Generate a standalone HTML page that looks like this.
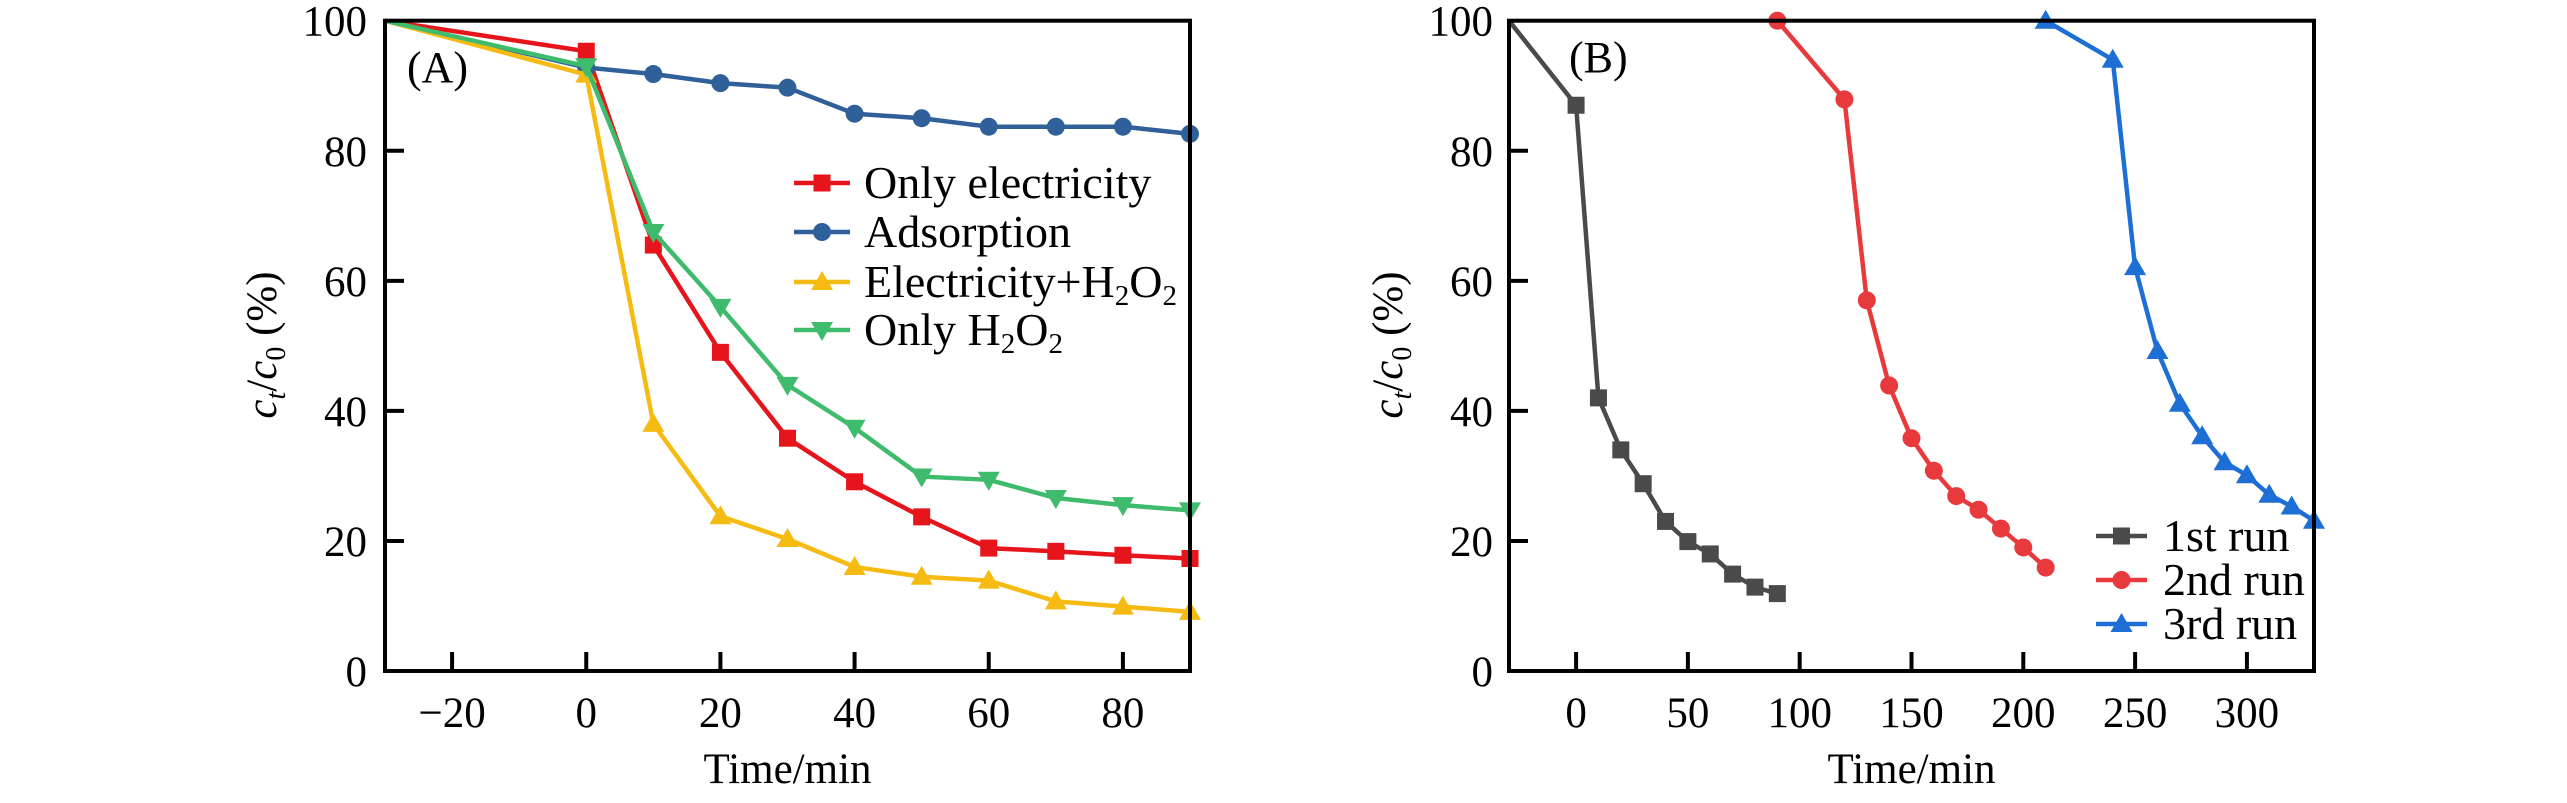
<!DOCTYPE html>
<html><head><meta charset="utf-8"><style>
html,body{margin:0;padding:0;background:#fff;font-family:"Liberation Serif","Times New Roman",serif;}
svg{display:block;}
svg text{font-family:"Liberation Serif","Times New Roman",serif;}
</style></head><body>
<svg id="chart" width="2567" height="803" viewBox="0 0 2567 803" xmlns="http://www.w3.org/2000/svg" font-family="Liberation Serif, Times New Roman, serif"></svg>
<script>
// Panel A data
const timeA = [-30, 0, 10, 20, 30, 40, 50, 60, 70, 80, 90];
const onlyElectricity = [100, 95.3, 65.5, 49, 35.8, 29.1, 23.7, 18.9, 18.4, 17.8, 17.3];
const adsorption = [100, 92.8, 91.8, 90.4, 89.7, 85.7, 85, 83.7, 83.7, 83.7, 82.6];
const electricityH2O2 = [100, 91.7, 38, 23.8, 20.3, 16.0, 14.5, 13.9, 10.7, 9.9, 9.1];
const onlyH2O2 = [100, 93, 67.5, 56, 44, 37.4, 29.9, 29.4, 26.6, 25.5, 24.7];
const xTicksA = [-20, 0, 20, 40, 60, 80];
// Panel B data
const time1 = [-30, 0, 10, 20, 30, 40, 50, 60, 70, 80, 90];
const run1 = [100, 87, 42, 34, 28.8, 23, 19.9, 18, 14.9, 12.9, 11.9];
const time2 = [90, 120, 130, 140, 150, 160, 170, 180, 190, 200, 210];
const run2 = [100, 87.9, 57, 43.9, 35.8, 30.8, 26.9, 24.8, 21.9, 19, 15.9];
const time3 = [210, 240, 250, 260, 270, 280, 290, 300, 310, 320, 330];
const run3 = [100, 94, 62.1, 49.2, 41.1, 36.1, 32.1, 30.1, 27.1, 25.3, 23.1];
const xTicksB = [0, 50, 100, 150, 200, 250, 300];
const yTicks = [0, 20, 40, 60, 80, 100];

const NS = "http://www.w3.org/2000/svg";
const FONT = "Liberation Serif, Times New Roman, serif";
const svg = document.getElementById('chart');
function mk(tag, attrs, parent) {
  const e = document.createElementNS(NS, tag);
  for (const k in attrs) e.setAttribute(k, attrs[k]);
  if (tag === 'text') e.setAttribute('font-family', FONT);
  (parent || svg).appendChild(e);
  return e;
}
const Y0 = 671, Y1 = 20.7;
function yS(v) { return Y0 - (v / 100) * (Y0 - Y1); }

function marker(g, type, x, y, color) {
  let m;
  if (type === 'square') m = mk('rect', {x: x - 8.5, y: y - 8.5, width: 17, height: 17, fill: color}, g);
  else if (type === 'circle') m = mk('circle', {cx: x, cy: y, r: 9, fill: color}, g);
  else if (type === 'up') m = mk('polygon', {points: `${x},${y - 11} ${x - 11},${y + 8} ${x + 11},${y + 8}`, fill: color}, g);
  else m = mk('polygon', {points: `${x},${y + 11} ${x - 11},${y - 8} ${x + 11},${y - 8}`, fill: color}, g);
  return m;
}

function panel(opts) {
  const {x0, x1, xmin, xmax, xticks, label, labelPos, titleX, tickRight, name} = opts;
  const xS = v => x0 + (v - xmin) / (xmax - xmin) * (x1 - x0);
  const g = mk('g', {});
  
  
  opts.series.forEach(s => {
    const sg = mk('g', {}, g);
    
    
    const pts = s.x.map((t, i) => `${xS(t)},${yS(s.y[i])}`).join(' ');
    const pl = mk('polyline', {points: pts, fill: 'none', stroke: s.color, 'stroke-width': 4.5, 'stroke-linejoin': 'round'}, sg);
    
    
    s.x.forEach((t, i) => {
      if (i < s.skip) return;
      const m = marker(sg, s.marker, xS(t), yS(s.y[i]), s.color);
      
      
    });
  });
  const fr = mk('rect', {x: x0, y: Y1, width: x1 - x0, height: Y0 - Y1, fill: 'none', stroke: '#000', 'stroke-width': 4}, g);
  
  
  xticks.forEach(t => {
    const X = xS(t);
    const tl = mk('line', {x1: X, x2: X, y1: Y0, y2: Y0 - 19, stroke: '#000', 'stroke-width': 4}, g);
    
    
    const tx = mk('text', {x: X, y: 727, 'font-size': 43, 'text-anchor': 'middle'}, g);
    tx.textContent = t < 0 ? '\u2212' + Math.abs(t) : String(t);
    
    
  });
  yTicks.forEach(v => {
    const Y = yS(v);
    if (v > 0 && v < 100) {
      const tl = mk('line', {x1: x0, x2: x0 + 19, y1: Y, y2: Y, stroke: '#000', 'stroke-width': 4}, g);
      
      
    }
    const tx = mk('text', {x: tickRight, y: Y + 15, 'font-size': 43, 'text-anchor': 'end'}, g);
    tx.textContent = String(v);
    
    
  });
  const xt = mk('text', {x: (x0 + x1) / 2, y: 783, 'font-size': 43, 'text-anchor': 'middle'}, g);
  xt.textContent = 'Time/min';
  
  
  const yt = mk('text', {x: 0, y: 0, 'font-size': 43, 'text-anchor': 'middle', transform: `translate(${titleX},345) rotate(-90)`}, g);
  yt.innerHTML = '<tspan font-style="italic">c</tspan><tspan font-style="italic" font-size="28" dy="9">t</tspan><tspan dy="-9">/</tspan><tspan font-style="italic">c</tspan><tspan font-size="28" dy="9">0</tspan><tspan dy="-9"> (%)</tspan>';
  
  
  const pl = mk('text', {x: labelPos[0], y: labelPos[1], 'font-size': 44}, g);
  pl.textContent = label;
  
  
  const lg = mk('g', {}, g);
  
  
  opts.legend.rows.forEach((r, i) => {
    const s = opts.series[i];
    const Y = r;
    const eg = mk('g', {}, lg);
    
    
    mk('line', {x1: opts.legend.lx0, x2: opts.legend.lx1, y1: Y, y2: Y, stroke: s.color, 'stroke-width': 4.5}, eg);
    marker(eg, s.marker, (opts.legend.lx0 + opts.legend.lx1) / 2, Y, s.color);
    const t = mk('text', {x: opts.legend.tx, y: Y + 15, 'font-size': 46}, eg);
    t.innerHTML = s.label;
  });
}

const sub2 = '<tspan font-size="29" dy="8">2</tspan><tspan dy="-8">O</tspan><tspan font-size="29" dy="8">2</tspan>';
panel({
  name: 'panel-a', x0: 385, x1: 1190, xmin: -30, xmax: 90, xticks: xTicksA,
  label: '(A)', labelPos: [407, 82], titleX: 276, tickRight: 367,
  series: [
    {name: 'only-electricity', x: timeA, y: onlyElectricity, color: '#e6141b', marker: 'square', skip: 1, label: 'Only electricity'},
    {name: 'adsorption', x: timeA, y: adsorption, color: '#2f6099', marker: 'circle', skip: 1, label: 'Adsorption'},
    {name: 'electricity-h2o2', x: timeA, y: electricityH2O2, color: '#f6bb12', marker: 'up', skip: 1, label: 'Electricity+H' + sub2},
    {name: 'only-h2o2', x: timeA, y: onlyH2O2, color: '#3ebb6d', marker: 'down', skip: 1, label: 'Only H' + sub2}
  ],
  legend: {rows: [183, 232, 282, 330], lx0: 794, lx1: 850, tx: 864}
});
panel({
  name: 'panel-b', x0: 1509, x1: 2314, xmin: -30, xmax: 330, xticks: xTicksB,
  label: '(B)', labelPos: [1569, 72], titleX: 1402, tickRight: 1493,
  series: [
    {name: 'run-1', x: time1, y: run1, color: '#4a4a4a', marker: 'square', skip: 1, label: '1st run'},
    {name: 'run-2', x: time2, y: run2, color: '#e83a3d', marker: 'circle', skip: 0, label: '2nd run'},
    {name: 'run-3', x: time3, y: run3, color: '#1d6fd6', marker: 'up', skip: 0, label: '3rd run'}
  ],
  legend: {rows: [536, 580, 624], lx0: 2096, lx1: 2147, tx: 2163}
});
</script>
</body></html>
